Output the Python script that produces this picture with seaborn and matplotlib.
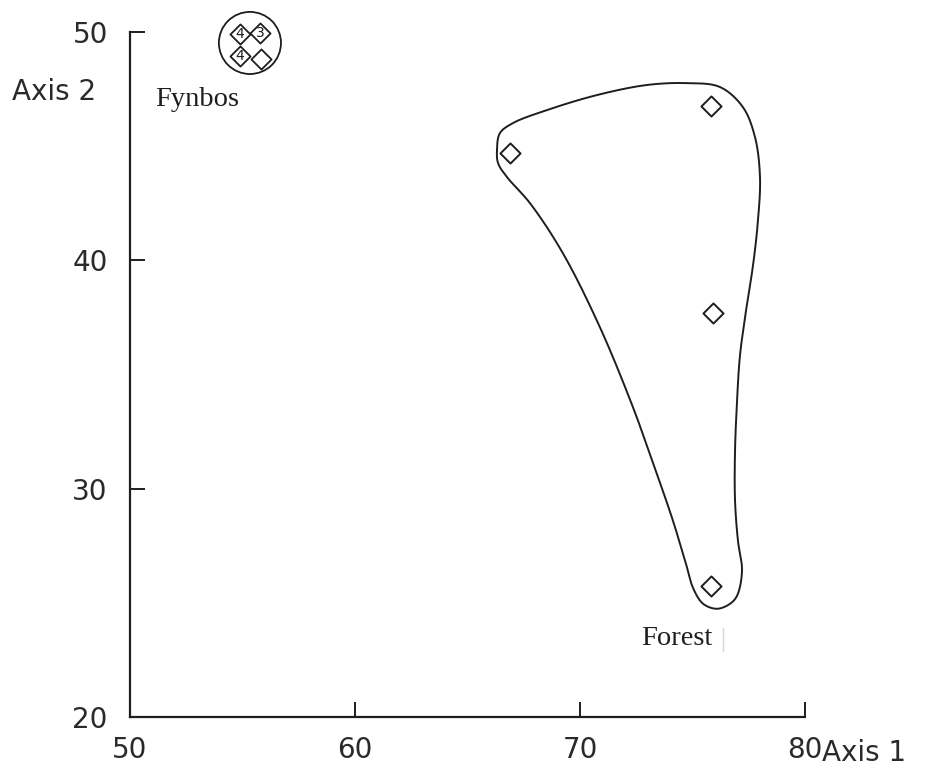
import numpy as np
import pandas as pd
import matplotlib
matplotlib.use("Agg")
import matplotlib.pyplot as plt
from matplotlib.patches import Ellipse
import seaborn as sns

# ---- data ----
forest_x = [66.9, 75.8, 75.9, 75.8]
forest_y = [44.7, 46.75, 37.7, 25.75]

fynbos_x = [54.89, 55.78, 54.89, 55.82]
fynbos_y = [49.91, 49.96, 48.95, 48.82]
fynbos_labels = ["4", "3", "4", ""]

# outline (hull) of the Forest group (data units)
hull_x = [66.31, 66.44, 67.02, 68.53, 70.76, 72.98, 74.76, 76.22, 77.24, 77.78,
          78.0, 77.91, 77.69, 77.38, 77.11, 76.98, 76.89, 76.89, 77.02, 77.2,
          76.98, 76.67, 76.09, 75.47, 75.02, 74.76, 74.13, 73.24, 72.36, 70.89,
          69.24, 67.78, 66.76, 66.36]
hull_y = [44.82, 45.57, 46.01, 46.58, 47.24, 47.68, 47.76, 47.59, 46.71, 45.39,
          43.64, 41.75, 39.78, 37.81, 35.83, 33.86, 31.67, 29.47, 27.72, 26.4,
          25.31, 24.96, 24.74, 24.96, 25.66, 26.54, 28.6, 31.14, 33.55, 37.06,
          40.31, 42.5, 43.64, 44.25]

x_ticks = [50, 60, 70, 80]
y_ticks = [20, 30, 40, 50]


def closed_catmull_rom(xs, ys, n=24, alpha=0.5):
    P = np.column_stack([xs, ys])
    m = len(P)
    out = []
    for i in range(m):
        p0, p1, p2, p3 = P[(i - 1) % m], P[i], P[(i + 1) % m], P[(i + 2) % m]
        t0 = 0.0
        t1 = t0 + np.linalg.norm(p1 - p0) ** alpha
        t2 = t1 + np.linalg.norm(p2 - p1) ** alpha
        t3 = t2 + np.linalg.norm(p3 - p2) ** alpha
        t = np.linspace(t1, t2, n, endpoint=False)[:, None]
        A1 = (t1 - t) / (t1 - t0) * p0 + (t - t0) / (t1 - t0) * p1
        A2 = (t2 - t) / (t2 - t1) * p1 + (t - t1) / (t2 - t1) * p2
        A3 = (t3 - t) / (t3 - t2) * p2 + (t - t2) / (t3 - t2) * p3
        B1 = (t2 - t) / (t2 - t0) * A1 + (t - t0) / (t2 - t0) * A2
        B2 = (t3 - t) / (t3 - t1) * A2 + (t - t1) / (t3 - t1) * A3
        C = (t2 - t) / (t2 - t1) * B1 + (t - t1) / (t2 - t1) * B2
        out.append(C)
    out = np.vstack(out)
    out = np.vstack([out, out[:1]])
    return out[:, 0], out[:, 1]


sns.set_style("white")
plt.rcParams["font.family"] = ["DejaVu Sans"]

ink = "#1e1e1e"
label_ink = "#2a2a2a"
serif = ["Liberation Serif", "DejaVu Serif"]
fig = plt.figure(figsize=(9.25, 7.71), dpi=100)
ax = fig.add_axes([130 / 925, 1 - 717 / 771, 675 / 925, 685 / 771])

df_forest = pd.DataFrame({"x": forest_x, "y": forest_y})
df_fyn = pd.DataFrame({"x": fynbos_x, "y": fynbos_y})

sns.scatterplot(data=df_forest, x="x", y="y", marker="D", s=105,
                facecolor="white", edgecolor=ink, linewidth=1.4, ax=ax, zorder=3)
sns.scatterplot(data=df_fyn, x="x", y="y", marker="D", s=105,
                facecolor="white", edgecolor=ink, linewidth=1.3, ax=ax,
                zorder=3, clip_on=False)
for xv, yv, lab in zip(fynbos_x, fynbos_y, fynbos_labels):
    if lab:
        ax.text(xv, yv, lab, ha="center", va="center", fontsize=10,
                color=ink, zorder=4, clip_on=False)

hx, hy = closed_catmull_rom(hull_x, hull_y)
ax.plot(hx, hy, color=ink, lw=1.4, zorder=2)

circ = Ellipse((55.33, 49.52), width=2.76, height=2.72, fill=False,
               edgecolor=ink, lw=1.3, clip_on=False, zorder=2)
ax.add_patch(circ)

ax.text(52.98, 47.06, "Fynbos", family=serif,
        fontsize=20.5, ha="center", va="center", color=ink)
ax.text(74.31, 23.42, "Forest", family=serif,
        fontsize=20.5, ha="center", va="center", color=ink)
ax.plot([76.36, 76.36], [23.9, 22.9], color="#d6d6d6", lw=1.0)

ax.set_xlim(50, 80)
ax.set_ylim(20, 50)
ax.set_xticks(x_ticks)
ax.set_yticks(y_ticks)
ax.set_xticklabels([str(v) for v in x_ticks])
ax.set_yticklabels([str(v) for v in y_ticks])
ax.set_xlabel("")
ax.set_ylabel("")
ax.tick_params(direction="in", length=11, width=1.4, color=ink,
               labelcolor=label_ink, labelsize=20, pad=14,
               bottom=True, left=True)
ax.tick_params(axis="y", pad=16)
for sp in ["top", "right"]:
    ax.spines[sp].set_visible(False)
for sp in ["left", "bottom"]:
    ax.spines[sp].set_linewidth(1.6)
    ax.spines[sp].set_color(ink)
ax.patch.set_alpha(0)

fig.text(822 / 925, 1 - 753 / 771, "Axis 1", ha="left", va="center",
         fontsize=20, color=label_ink)
fig.text(12 / 925, 1 - 92 / 771, "Axis 2", ha="left", va="center",
         fontsize=20, color=label_ink)

fig.savefig("out.png", dpi=100, facecolor="white")
